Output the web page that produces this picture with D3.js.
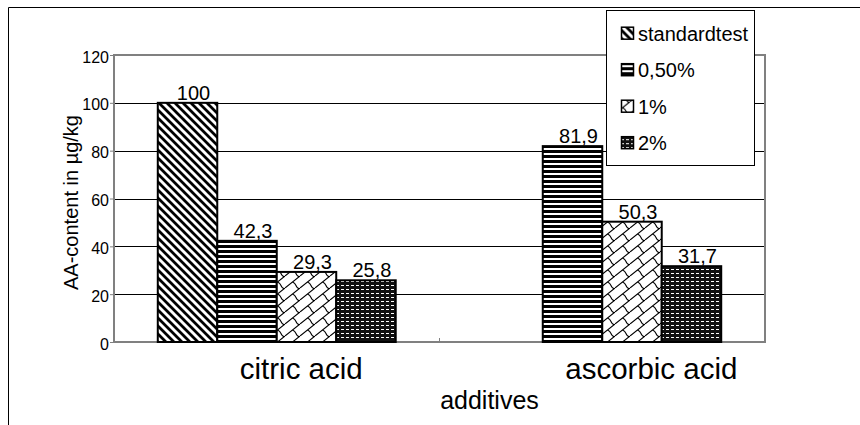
<!DOCTYPE html>
<html>
<head>
<meta charset="utf-8">
<script src="https://cdn.jsdelivr.net/npm/d3@7"></script>
<style>
  body { margin: 0; background: #fff; }
  svg { display: block; }
  text { font-family: "Liberation Sans", Arial, Helvetica, sans-serif; fill: #000; }
</style>
</head>
<body>
<svg id="chart" width="860" height="425"></svg>
<script>
// ---- data ----
const categories = ["citric acid", "ascorbic acid"];
const seriesNames = ["standardtest", "0,50%", "1%", "2%"];
const standardtest = [100, null];
const half = [42.3, 81.9];
const one = [29.3, 50.3];
const two = [25.8, 31.7];
const yTicks = [0, 20, 40, 60, 80, 100, 120];
const xTitle = "additives";
const yTitle = "AA-content in µg/kg";

const seriesValues = [standardtest, half, one, two];
const patternIds = ["pat-diag", "pat-horiz", "pat-shingle", "pat-dots"];

// ---- layout ----
const W = 860, H = 425;
const plot = { left: 114, top: 55, right: 765, bottom: 342 };
const axisGray = "#808080";

const svg = d3.select("#chart");

// ---- fill patterns ----
const defs = svg.append("defs");

// wide downward diagonal stripes
const pDiag = defs.append("pattern").attr("id", "pat-diag")
  .attr("patternUnits", "userSpaceOnUse").attr("width", 8).attr("height", 8);
pDiag.append("rect").attr("width", 8).attr("height", 8).attr("fill", "#fff");
pDiag.append("path").attr("d", "M-2,-2L10,10M-2,6L2,10M6,-2L10,2")
  .attr("stroke", "#000").attr("stroke-width", 2.8);

// dark horizontal stripes
const pHoriz = defs.append("pattern").attr("id", "pat-horiz")
  .attr("patternUnits", "userSpaceOnUse").attr("width", 5).attr("height", 5);
pHoriz.append("rect").attr("width", 5).attr("height", 5).attr("fill", "#fff");
pHoriz.append("rect").attr("width", 5).attr("height", 3).attr("fill", "#000");

// shingle
const pSh = defs.append("pattern").attr("id", "pat-shingle")
  .attr("patternUnits", "userSpaceOnUse").attr("width", 15).attr("height", 12);
pSh.append("rect").attr("width", 15).attr("height", 12).attr("fill", "#fff");
pSh.append("path")
  .attr("d", "M-15,12L0,0M0,12L15,0M15,12L30,0" +
             "M7.5,6Q10,7 11,9.5T14.2,12.7" +
             "M7.5,-6Q10,-5 11,-2.5T14.2,0.7")
  .attr("fill", "none").attr("stroke", "#000").attr("stroke-width", 1.1);

// dark background with white dashes
const pDots = defs.append("pattern").attr("id", "pat-dots")
  .attr("patternUnits", "userSpaceOnUse").attr("width", 5).attr("height", 4);
pDots.append("rect").attr("width", 5).attr("height", 4).attr("fill", "#111");
pDots.append("rect").attr("x", 1).attr("y", 1).attr("width", 3).attr("height", 1).attr("fill", "#fff");

// ---- outer chart frame ----
svg.append("path").attr("d", `M8.5,${H}V7.5H${W}`)
  .attr("fill", "none").attr("stroke", "#000").attr("stroke-width", 1);

// ---- scales ----
const x = d3.scaleBand().domain(categories)
  .range([plot.left, plot.right]).paddingInner(0.269).paddingOuter(0.1345);
const xs = d3.scaleBand().domain(seriesNames).range([0, x.bandwidth()]);
const y = d3.scaleLinear().domain([0, 120]).range([plot.bottom, plot.top]);

// ---- gridlines ----
svg.append("g").selectAll("line")
  .data(yTicks.filter(t => t > 0 && t < 120))
  .join("line")
  .attr("x1", plot.left).attr("x2", plot.right)
  .attr("y1", d => Math.round(y(d)) + 0.5).attr("y2", d => Math.round(y(d)) + 0.5)
  .attr("stroke", "#000").attr("stroke-width", 1);

// ---- plot frame ----
svg.append("rect")
  .attr("x", plot.left).attr("y", plot.top)
  .attr("width", plot.right - plot.left).attr("height", plot.bottom - plot.top)
  .attr("fill", "none").attr("stroke", axisGray).attr("stroke-width", 2);

// ---- y axis ----
const yAxis = svg.append("g").attr("transform", `translate(${plot.left},0)`)
  .call(d3.axisLeft(y).tickValues(yTicks).tickSize(4).tickPadding(1));
yAxis.select(".domain").remove();
yAxis.selectAll(".tick line").attr("stroke", axisGray);
yAxis.selectAll(".tick text")
  .attr("dy", "0.44em")
  .style("font-size", "16px")
  .style("font-family", '"Liberation Sans", Arial, sans-serif')
  .attr("fill", "#000");

// category boundary ticks
const bounds = [plot.left, x(categories[1]) - x.step() * x.paddingInner() / 2, plot.right];
svg.append("g").selectAll("line").data(bounds).join("line")
  .attr("x1", d => d).attr("x2", d => d)
  .attr("y1", plot.bottom - 4).attr("y2", plot.bottom)
  .attr("stroke", axisGray).attr("stroke-width", 1);

// ---- bars ----
const barData = [];
seriesValues.forEach((vals, si) => {
  vals.forEach((v, ci) => {
    if (v != null) barData.push({ s: seriesNames[si], si, c: categories[ci], v });
  });
});

svg.append("g").selectAll("rect").data(barData).join("rect")
  .attr("x", d => x(d.c) + xs(d.s))
  .attr("y", d => y(d.v))
  .attr("width", xs.bandwidth())
  .attr("height", d => y(0) - y(d.v))
  .attr("fill", d => `url(#${patternIds[d.si]})`)
  .attr("stroke", "#000").attr("stroke-width", 2);

// value labels
const fmt = v => String(v).replace(".", ",");
svg.append("g").selectAll("text").data(barData).join("text")
  .attr("x", d => x(d.c) + xs(d.s) + xs.bandwidth() / 2 + 6)
  .attr("y", d => y(d.v) - 3)
  .attr("text-anchor", "middle")
  .style("font-size", "20px")
  .text(d => fmt(d.v));

// ---- category labels ----
svg.append("g").selectAll("text").data(categories).join("text")
  .attr("x", d => x(d) + 82)
  .attr("y", 379)
  .attr("text-anchor", "start")
  .style("font-size", "29.5px")
  .text(d => d);

// ---- axis titles ----
svg.append("text")
  .attr("x", (plot.left + plot.right) / 2 + 50)
  .attr("y", 409)
  .attr("text-anchor", "middle")
  .style("font-size", "25px")
  .text(xTitle);

svg.append("text")
  .attr("transform", `translate(78,${(plot.top + plot.bottom) / 2 + 4}) rotate(-90)`)
  .attr("text-anchor", "middle")
  .style("font-size", "20px")
  .text(yTitle);

// ---- legend ----
const legend = svg.append("g");
legend.append("rect")
  .attr("x", 606.5).attr("y", 10.5).attr("width", 148).attr("height", 155)
  .attr("fill", "#fff").attr("stroke", "#000").attr("stroke-width", 1);

const items = legend.selectAll("g.item").data(seriesNames).join("g")
  .attr("class", "item")
  .attr("transform", (d, i) => `translate(0,${40.7 + i * 36.5})`);
items.append("rect")
  .attr("x", 621.5).attr("y", -13.5).attr("width", 12).attr("height", 12)
  .attr("fill", (d, i) => `url(#${patternIds[i]})`)
  .attr("stroke", "#000").attr("stroke-width", 1.5);
items.append("text")
  .attr("x", 638).attr("y", 0)
  .style("font-size", "20px")
  .text(d => d);
</script>
</body>
</html>
